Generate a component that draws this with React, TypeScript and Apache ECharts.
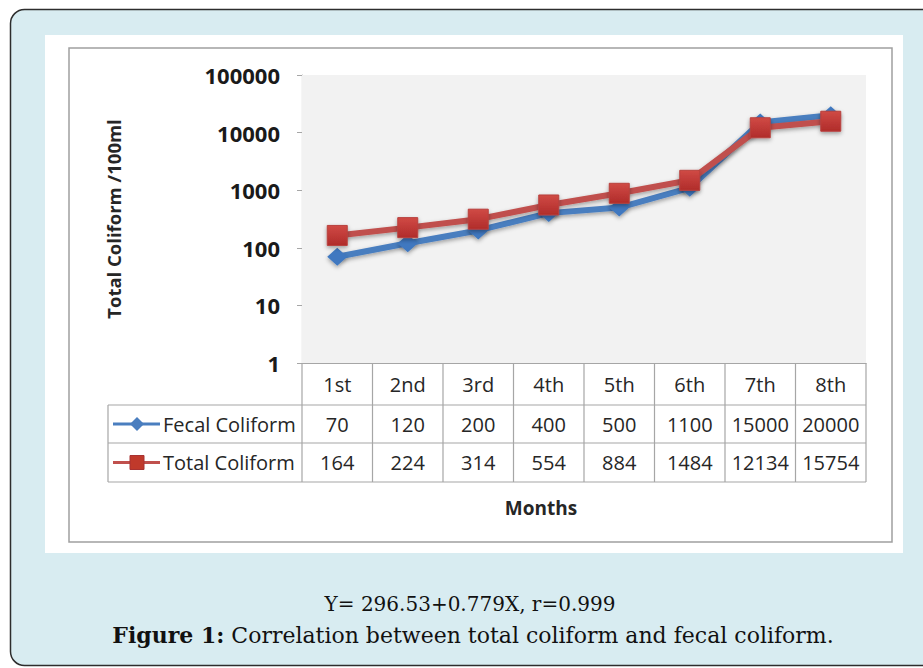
import React, { useEffect, useRef } from "react";
import * as echarts from "echarts";

const months = ["1st", "2nd", "3rd", "4th", "5th", "6th", "7th", "8th"];
const fecalColiform = [70, 120, 200, 400, 500, 1100, 15000, 20000];
const totalColiform = [164, 224, 314, 554, 884, 1484, 12134, 15754];
const seriesNames = ["Fecal Coliform", "Total Coliform"];
const yAxisTitle = "Total Coliform /100ml";
const xAxisTitle = "Months";
const captionLine1 = "Y= 296.53+0.779X, r=0.999";
const captionBold = "Figure 1:";
const captionRest = " Correlation between total coliform and fecal coliform.";

const W = 923;
const H = 668;
const PL = 302;
const PR = 866;
const PT = 75;
const PB = 363;
const TABLE_LEFT = 108;
const ROW_Y = [363, 405, 443, 482];

const BLUE = "#4a7ebf";
const RED = "#c0504d";
const SANS = "'Open Sans', 'DejaVu Sans', sans-serif";
const SERIF = "'DejaVu Serif', 'Liberation Serif', serif";

export default function App() {
  const ref = useRef<HTMLDivElement>(null);
  useEffect(() => {
    if (!ref.current) return;
    const chart = echarts.init(ref.current, null, { renderer: "svg" });
    const n = months.length;
    const cw = (PR - PL) / n;
    const gridStroke = { stroke: "#a6a6a6", lineWidth: 1.2 };
    const g: any[] = [];
    // outer background
    g.push({ type: "rect", z: -10, shape: { x: 0, y: 0, width: W, height: H }, style: { fill: "#ffffff" } });
    g.push({ type: "rect", z: -9, shape: { x: 10.5, y: 9.5, width: 940, height: 656, r: 14 }, style: { fill: "#d8ecf1", stroke: "#2d2d2d", lineWidth: 1.5 } });
    g.push({ type: "rect", z: -8, shape: { x: 45, y: 35, width: 858, height: 518 }, style: { fill: "#ffffff" } });
    g.push({ type: "rect", z: -7, shape: { x: 69, y: 48, width: 823, height: 494 }, style: { fill: "#ffffff", stroke: "#a0a0a0", lineWidth: 1.5 } });
    // table lines
    for (let i = 0; i <= n; i++) {
      const x = PL + i * cw;
      g.push({ type: "line", shape: { x1: x, y1: ROW_Y[0], x2: x, y2: ROW_Y[3] }, style: gridStroke });
    }
    g.push({ type: "line", shape: { x1: TABLE_LEFT, y1: ROW_Y[1], x2: TABLE_LEFT, y2: ROW_Y[3] }, style: gridStroke });
    for (let r = 1; r <= 3; r++) {
      g.push({ type: "line", shape: { x1: TABLE_LEFT, y1: ROW_Y[r], x2: PR, y2: ROW_Y[r] }, style: gridStroke });
    }
    const cellText = (text: string, x: number, y: number, extra: any = {}) => ({
      type: "text",
      x,
      y,
      style: { text, fontFamily: SANS, fontSize: 20, fill: "#262626", align: "center", verticalAlign: "middle", ...extra },
    });
    months.forEach((m, i) => {
      g.push(cellText(m, PL + (i + 0.5) * cw, (ROW_Y[0] + ROW_Y[1]) / 2));
      g.push(cellText(String(fecalColiform[i]), PL + (i + 0.5) * cw, (ROW_Y[1] + ROW_Y[2]) / 2));
      g.push(cellText(String(totalColiform[i]), PL + (i + 0.5) * cw, (ROW_Y[2] + ROW_Y[3]) / 2));
    });
    // legend keys
    const keyY1 = (ROW_Y[1] + ROW_Y[2]) / 2;
    const keyY2 = (ROW_Y[2] + ROW_Y[3]) / 2;
    g.push({ type: "line", shape: { x1: 113, y1: keyY1, x2: 160, y2: keyY1 }, style: { stroke: BLUE, lineWidth: 3 } });
    g.push({ type: "polygon", shape: { points: [[137, keyY1 - 7], [144, keyY1], [137, keyY1 + 7], [130, keyY1]] }, style: { fill: BLUE } });
    g.push({ type: "line", shape: { x1: 113, y1: keyY2, x2: 160, y2: keyY2 }, style: { stroke: RED, lineWidth: 3 } });
    g.push({ type: "rect", shape: { x: 130, y: keyY2 - 7, width: 14, height: 14 }, style: { fill: "#c0392b", stroke: "#a83232", lineWidth: 1 } });
    g.push(cellText(seriesNames[0], 163, keyY1, { align: "left" }));
    g.push(cellText(seriesNames[1], 163, keyY2, { align: "left" }));
    // axis titles
    g.push({ type: "text", x: 541, y: 508, style: { text: xAxisTitle, fontFamily: SANS, fontWeight: "bold", fontSize: 19, fill: "#262626", align: "center", verticalAlign: "middle" } });
    g.push({ type: "text", x: 113, y: 219, rotation: Math.PI / 2, style: { text: yAxisTitle, fontFamily: SANS, fontWeight: "bold", fontSize: 18.5, fill: "#262626", align: "center", verticalAlign: "middle" } });
    // caption
    g.push({ type: "text", x: 470, y: 604, style: { text: captionLine1, fontFamily: SERIF, fontSize: 20, fill: "#111", align: "center", verticalAlign: "middle" } });
    g.push({
      type: "text",
      x: 473,
      y: 635,
      style: {
        text: "{b|" + captionBold + "}{n|" + captionRest + "}",
        align: "center",
        verticalAlign: "middle",
        rich: {
          b: { fontFamily: SERIF, fontSize: 22, fontWeight: "bold", fill: "#111" },
          n: { fontFamily: SERIF, fontSize: 22, fill: "#111" },
        },
      },
    });

    const lineShadow = { shadowBlur: 4, shadowColor: "rgba(0,0,0,0.35)", shadowOffsetY: 2 };
    chart.setOption({
      animation: false,
      grid: { left: PL, top: PT, width: PR - PL, height: PB - PT, show: true, backgroundColor: "#f2f2f2", borderWidth: 0, z: 1 },
      xAxis: {
        type: "category",
        data: months,
        boundaryGap: true,
        axisLine: { show: true, lineStyle: { color: "#a6a6a6", width: 1.2 } },
        axisTick: { show: false },
        axisLabel: { show: false },
        splitLine: { show: false },
      },
      yAxis: {
        type: "log",
        logBase: 10,
        min: 1,
        max: 100000,
        axisLine: { show: true, lineStyle: { color: "#a6a6a6", width: 1.2 } },
        axisTick: { show: true, length: 5, lineStyle: { color: "#a6a6a6" } },
        axisLabel: { fontFamily: SANS, fontWeight: "bold", fontSize: 22, color: "#1a1a1a", margin: 22, formatter: (v: number) => String(Math.round(v)) },
        splitLine: { show: true, lineStyle: { color: "#8c8c8c", width: 1.2 } },
        minorTick: { show: false },
      },
      series: [
        {
          name: seriesNames[0],
          type: "line",
          data: fecalColiform,
          symbol: "diamond",
          symbolSize: [20, 18],
          lineStyle: { color: BLUE, width: 6, ...lineShadow },
          itemStyle: { color: "#3f78c0", ...lineShadow },
          z: 3,
        },
        {
          name: seriesNames[1],
          type: "line",
          data: totalColiform,
          symbol: "rect",
          symbolSize: 20,
          lineStyle: { color: RED, width: 6, ...lineShadow },
          itemStyle: {
            color: new echarts.graphic.LinearGradient(0, 0, 0, 1, [
              { offset: 0, color: "#d04a45" },
              { offset: 1, color: "#b02c2a" },
            ]),
            borderColor: "#b8413e",
            borderWidth: 1,
            ...lineShadow,
          },
          z: 4,
        },
      ],
      graphic: { elements: g },
    });
    return () => chart.dispose();
  }, []);
  return <div ref={ref} style={{ position: "absolute", left: 0, top: 0, width: W, height: H }} />;
}
